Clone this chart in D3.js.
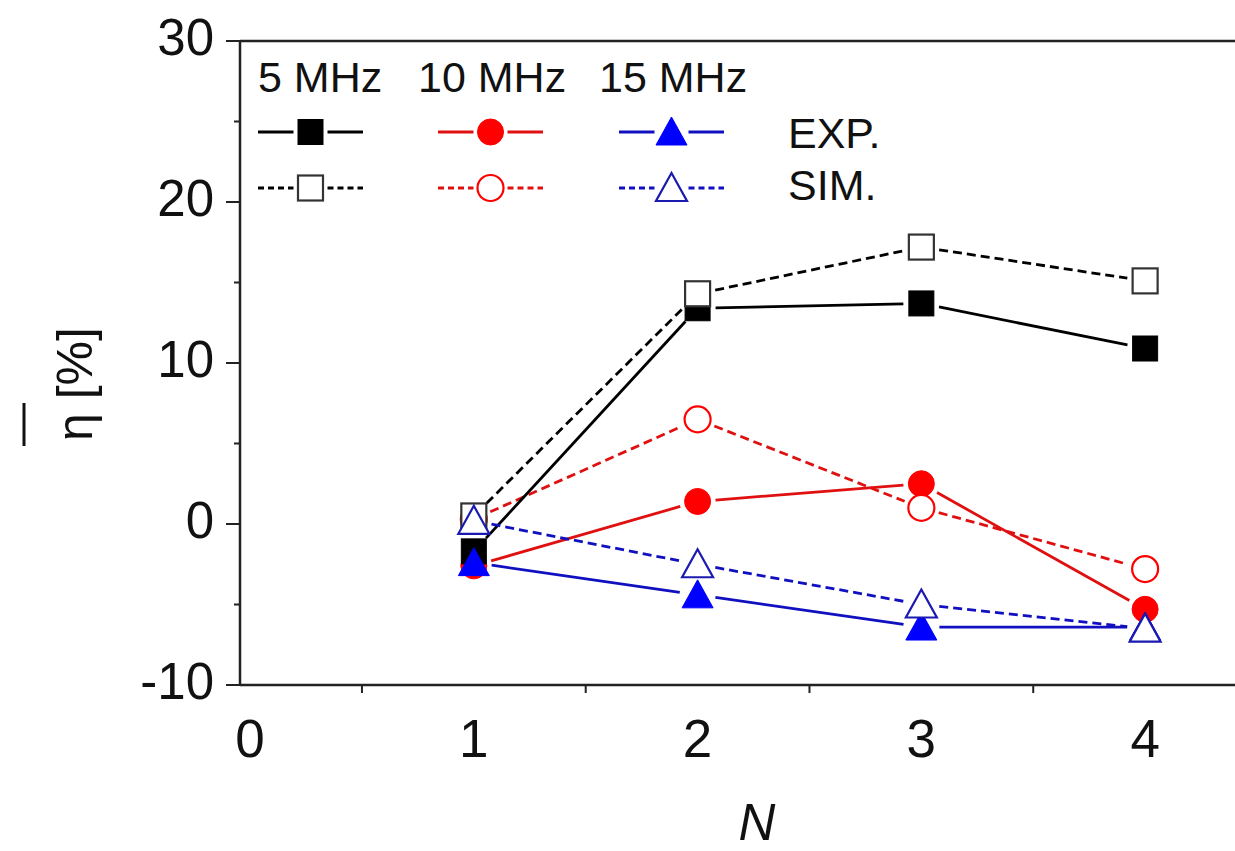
<!DOCTYPE html>
<html>
<head>
<meta charset="utf-8">
<script src="https://cdn.jsdelivr.net/npm/d3@7"></script>
<style>
  body { margin: 0; background: #fff; }
  svg text { font-family: "Liberation Sans", Arial, sans-serif; fill: #111; }
</style>
</head>
<body>
<svg id="chart" width="1235" height="851"></svg>
<script>
// values
const nValues = [1, 2, 3, 4];
const exp5 = [-1.7, 13.4, 13.7, 10.9];
const sim5 = [0.5, 14.3, 17.2, 15.1];
const exp10 = [-2.6, 1.4, 2.5, -5.3];
const sim10 = [0.3, 6.5, 1.0, -2.8];
const exp15 = [-2.4, -4.4, -6.4, -6.4];
const sim15 = [0.2, -2.5, -5.0, -6.5];
const freqLabels = ["5 MHz", "10 MHz", "15 MHz"];
const xTicks = [0, 1, 2, 3, 4];
const yTicks = [-10, 0, 10, 20, 30];

const svg = d3.select("#chart");
const x = d3.scaleLinear().domain([-0.045, 4.5]).range([240, 1257]);
const y = d3.scaleLinear().domain([-10, 30]).range([685, 41]);

const red = "#ff0000", blue = "#0000ff";
const series = [
  { vals: exp10, color: red, lineColor: "#e01010", shape: "circle", open: false, dash: null },
  { vals: sim10, color: red, lineColor: "#e01010", shape: "circle", open: true, dash: "9,5" },
  { vals: exp5, color: "#000", lineColor: "#000", shape: "square", open: false, dash: null },
  { vals: sim5, color: "#333", lineColor: "#000", shape: "square", open: true, dash: "9,5" },
  { vals: exp15, color: blue, lineColor: "#1010c0", shape: "triangle", open: false, dash: null },
  { vals: sim15, color: "#1a1ab0", lineColor: "#1010c0", shape: "triangle", open: true, dash: "9,5" }
];

function marker(g, shape, cx, cy, color, open) {
  let m;
  if (shape === "square") {
    m = g.append("rect").attr("x", cx - 12.5).attr("y", cy - 12.5)
      .attr("width", 25).attr("height", 25);
  } else if (shape === "circle") {
    m = g.append("circle").attr("cx", cx).attr("cy", cy).attr("r", 13);
  } else {
    m = g.append("path")
      .attr("d", `M${cx},${cy - 15}L${cx + 15.5},${cy + 13}L${cx - 15.5},${cy + 13}Z`);
  }
  m.attr("fill", open ? "#fff" : color)
    .attr("stroke", color)
    .attr("stroke-width", open ? 2.2 : 1);
}

// frame
const frame = svg.append("g").attr("stroke", "#222").attr("stroke-width", 2.5);
frame.append("line").attr("x1", x.range()[0]).attr("x2", 1240).attr("y1", y(30)).attr("y2", y(30));
frame.append("line").attr("x1", x.range()[0]).attr("x2", 1240).attr("y1", y(-10)).attr("y2", y(-10));
frame.append("line").attr("x1", x.range()[0]).attr("x2", x.range()[0]).attr("y1", y(30)).attr("y2", y(-10));

// y ticks
yTicks.forEach(v => {
  svg.append("line").attr("x1", x.range()[0] - 14).attr("x2", x.range()[0])
    .attr("y1", y(v)).attr("y2", y(v)).attr("stroke", "#222").attr("stroke-width", 2);
  svg.append("text").attr("x", 214).attr("y", y(v) + 14)
    .attr("text-anchor", "end").attr("font-size", 51).text(v);
});
[-5, 5, 15, 25].forEach(v => {
  svg.append("line").attr("x1", x.range()[0] - 6).attr("x2", x.range()[0])
    .attr("y1", y(v)).attr("y2", y(v)).attr("stroke", "#222").attr("stroke-width", 2);
});

// x ticks
[0.5, 1.5, 2.5, 3.5].forEach(v => {
  svg.append("line").attr("x1", x(v)).attr("x2", x(v))
    .attr("y1", y(-10)).attr("y2", y(-10) + 8).attr("stroke", "#222").attr("stroke-width", 2);
});
xTicks.forEach(v => {
  svg.append("text").attr("x", x(v)).attr("y", 757)
    .attr("text-anchor", "middle").attr("font-size", 53).text(v);
});

// axis titles
svg.append("text").attr("x", 757).attr("y", 840).attr("text-anchor", "middle")
  .attr("font-size", 51).attr("font-style", "italic").text("N");
svg.append("text").attr("transform", "translate(92,384) rotate(-90)")
  .attr("text-anchor", "middle").attr("font-size", 50).text("\u03b7 [%]");
svg.append("line").attr("x1", 24).attr("x2", 24).attr("y1", 403).attr("y2", 446)
  .attr("stroke", "#111").attr("stroke-width", 3);

// data lines with gaps at the symbols, then symbols
const gap = 18;
series.forEach(s => {
  const g = svg.append("g");
  const pts = nValues.map((n, i) => [x(n), y(s.vals[i])]);
  for (let i = 0; i < pts.length - 1; i++) {
    const [x1, y1] = pts[i], [x2, y2] = pts[i + 1];
    const len = Math.hypot(x2 - x1, y2 - y1);
    if (len <= 2 * gap) continue;
    const ux = (x2 - x1) / len, uy = (y2 - y1) / len;
    g.append("line")
      .attr("x1", x1 + ux * gap).attr("y1", y1 + uy * gap)
      .attr("x2", x2 - ux * gap).attr("y2", y2 - uy * gap)
      .attr("stroke", s.lineColor).attr("stroke-width", 2.8)
      .attr("stroke-dasharray", s.dash);
  }
  pts.forEach(p => marker(g, s.shape, p[0], p[1], s.color, s.open));
});

// legend
const legX = [258, 438, 619];
const legW = 105;
const rows = [
  { y: 132, label: "EXP.", open: false, dash: null, ly: 148 },
  { y: 188, label: "SIM.", open: true, dash: "6,4", ly: 200 }
];
const legSeries = [
  { color: "#000", lineColor: "#000", openColor: "#333", shape: "square" },
  { color: red, lineColor: "#e01010", openColor: red, shape: "circle" },
  { color: blue, lineColor: "#1010c0", openColor: "#1a1ab0", shape: "triangle" }
];
freqLabels.forEach((t, i) => {
  svg.append("text").attr("x", legX[i] - (i ? 20 : 0)).attr("y", 92)
    .attr("font-size", 43).text(t);
});
rows.forEach(r => {
  legSeries.forEach((s, i) => {
    const g = svg.append("g");
    const cx = legX[i] + legW / 2;
    g.append("line").attr("x1", legX[i]).attr("x2", cx - 17).attr("y1", r.y).attr("y2", r.y)
      .attr("stroke", s.lineColor).attr("stroke-width", 2.8).attr("stroke-dasharray", r.dash);
    g.append("line").attr("x1", cx + 17).attr("x2", legX[i] + legW).attr("y1", r.y).attr("y2", r.y)
      .attr("stroke", s.lineColor).attr("stroke-width", 2.8).attr("stroke-dasharray", r.dash);
    marker(g, s.shape, cx, r.y, r.open ? s.openColor : s.color, r.open);
  });
  svg.append("text").attr("x", 788).attr("y", r.ly).attr("font-size", 43).text(r.label);
});
</script>
</body>
</html>
